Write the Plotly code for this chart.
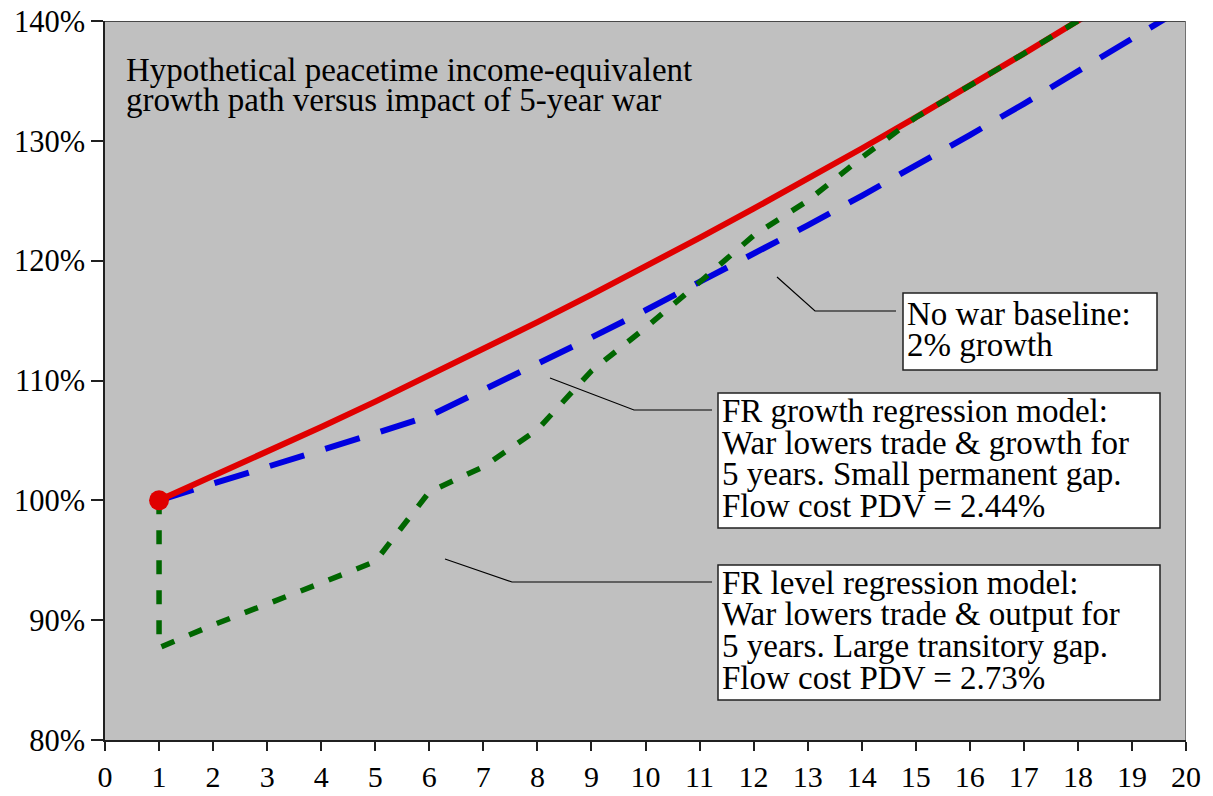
import plotly.graph_objects as go

# ---- data ----
years = list(range(1, 21))
no_war = [100.0, 102.0, 104.04, 106.12, 108.24, 110.41, 112.62, 114.87, 117.17, 119.51,
          121.90, 124.34, 126.82, 129.36, 131.95, 134.59, 137.28, 140.02, 142.82, 145.68]
growth_model = [100.0, 101.37, 102.76, 104.17, 105.59, 107.04, 109.18, 111.36, 113.59, 115.86,
                118.18, 120.54, 122.95, 125.41, 127.92, 130.48, 133.09, 135.75, 138.47, 141.24]
level_x = [1] + years
level_model = [100.0, 87.7, 89.6, 91.3, 93.1, 94.9, 100.7, 102.8, 105.9, 110.8, 114.4,
               118.2, 122.1, 125.0, 128.6, 131.95, 134.59, 137.28, 140.02, 142.82, 145.68]

x_ticks = list(range(0, 21))
y_ticks = [80, 90, 100, 110, 120, 130, 140]

title_lines = ["Hypothetical peacetime income-equivalent",
               "growth path versus impact of 5-year war"]
box1_lines = ["No war baseline:", "2% growth"]
box2_lines = ["FR growth regression model:", "War lowers trade & growth for",
              "5 years. Small permanent gap.", "Flow cost PDV = 2.44%"]
box3_lines = ["FR level regression model:", "War lowers trade & output for",
              "5 years. Large transitory gap.", "Flow cost PDV = 2.73%"]

FONT = "Liberation Serif"
RED = "#E00000"
BLUE = "#0000E0"
GREEN = "#006600"

fig = go.Figure()

fig.add_trace(go.Scatter(x=years, y=growth_model, mode="lines",
                         line=dict(color=BLUE, width=6, dash="36px,22px"),
                         showlegend=False))
fig.add_trace(go.Scatter(x=years, y=no_war, mode="lines",
                         line=dict(color=RED, width=6), showlegend=False))
fig.add_trace(go.Scatter(x=level_x, y=level_model, mode="lines",
                         line=dict(color=GREEN, width=5.5, dash="14px,16px"),
                         showlegend=False))
fig.add_trace(go.Scatter(x=[years[0]], y=[no_war[0]], mode="markers",
                         marker=dict(color=RED, size=20), showlegend=False))

# px -> data helpers for layout placement (annotation geometry only)
def dx(px):
    return (px - 105) / 54.05

def dy(py):
    return 140 - (py - 21) / 11.983

shapes = []
annotations = []

# frame: top and right borders
shapes.append(dict(type="line", xref="x", yref="y", x0=0, x1=20, y0=140, y1=140,
                   line=dict(color="#202020", width=1.5)))
shapes.append(dict(type="line", xref="x", yref="y", x0=20, x1=20, y0=80, y1=140,
                   line=dict(color="#707070", width=2)))

# leader lines
def poly(pts):
    path = "M " + " L ".join(f"{dx(a):.4f},{dy(b):.4f}" for a, b in pts)
    shapes.append(dict(type="path", xref="x", yref="y", path=path,
                       line=dict(color="black", width=1.2)))

poly([(777, 277), (815, 311), (896, 311)])
poly([(550, 378), (634, 410), (712, 410)])
poly([(445, 559), (512, 582), (712, 582)])

# boxes
def box(x0, y0, x1, y1, lines, centers):
    shapes.append(dict(type="rect", xref="x", yref="y", x0=dx(x0), x1=dx(x1),
                       y0=dy(y0), y1=dy(y1), fillcolor="white",
                       line=dict(color="#202020", width=1.5)))
    for t, c in zip(lines, centers):
        annotations.append(dict(x=dx(x0 + 2), y=dy(c), xref="x", yref="y", text=t,
                                showarrow=False, xanchor="left", yanchor="middle",
                                font=dict(family=FONT, size=33, color="black")))

box(903, 293, 1157, 370, box1_lines, [314, 345])
box(718, 393, 1160, 528, box2_lines, [411, 443, 474, 506])
box(718, 565, 1160, 700, box3_lines, [583, 614, 646, 678])

for t, c in zip(title_lines, [70, 100]):
    annotations.append(dict(x=dx(124), y=dy(c), xref="x", yref="y", text=t,
                            showarrow=False, xanchor="left", yanchor="middle",
                            font=dict(family=FONT, size=33, color="black")))

# the page body adds an 8px offset, so margins are shifted to keep the plot area in place
fig.update_layout(
    width=1213, height=796,
    margin=dict(l=97, r=35, t=13, b=64),
    paper_bgcolor="white",
    plot_bgcolor="#C0C0C0",
    font=dict(family=FONT, size=30, color="black"),
    shapes=shapes,
    annotations=annotations,
    xaxis=dict(range=[0, 20], tickvals=x_ticks, ticktext=[str(v) for v in x_ticks],
               ticks="outside", ticklen=9, tickwidth=1.5, tickcolor="#202020",
               showline=True, linecolor="#202020", linewidth=2,
               showgrid=False, zeroline=False, fixedrange=True, automargin=False,
               ticklabeloverflow="allow",
               tickfont=dict(family=FONT, size=30)),
    yaxis=dict(range=[80, 140], tickvals=y_ticks, ticktext=[f"{v}%" for v in y_ticks],
               ticks="outside", ticklen=12, tickwidth=1.5, tickcolor="#202020",
               showline=True, linecolor="#202020", linewidth=1.5,
               showgrid=False, zeroline=False, fixedrange=True, automargin=False,
               ticklabeloverflow="allow",
               tickfont=dict(family=FONT, size=30.5)),
)

fig.write_html("out.html")
